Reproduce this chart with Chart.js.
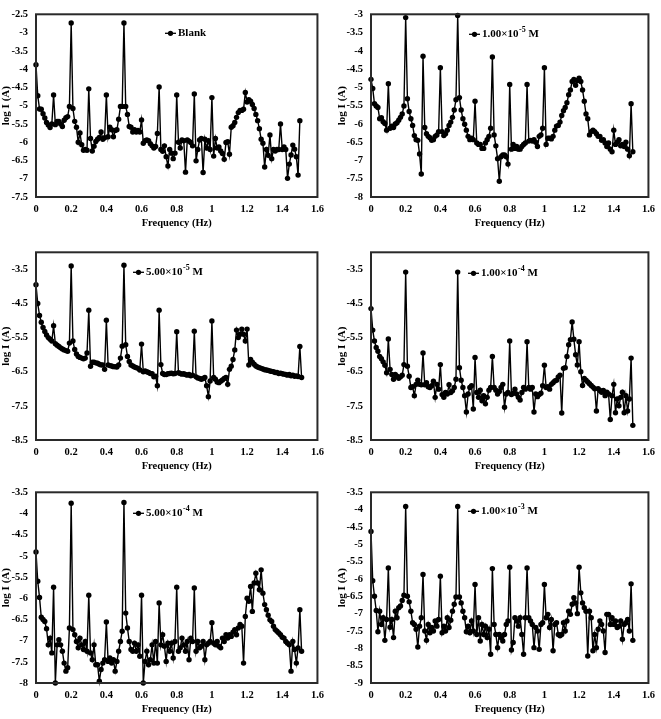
<!DOCTYPE html>
<html>
<head>
<meta charset="utf-8">
<script src="https://cdn.jsdelivr.net/npm/chart.js@4.4.0/dist/chart.umd.min.js"></script>
<style>
  html, body { margin: 0; padding: 0; background: #fff; width: 661px; height: 719px; overflow: hidden; }
  .panel { position: absolute; }
  canvas { display: block; }
</style>
</head>
<body>
<div class="panel" style="left:0;top:0"><canvas id="c1" width="330" height="237"></canvas></div>
<div class="panel" style="left:330px;top:0"><canvas id="c2" width="331" height="237"></canvas></div>
<div class="panel" style="left:0;top:238px"><canvas id="c3" width="330" height="242"></canvas></div>
<div class="panel" style="left:330px;top:238px"><canvas id="c4" width="331" height="242"></canvas></div>
<div class="panel" style="left:0;top:478px"><canvas id="c5" width="330" height="245"></canvas></div>
<div class="panel" style="left:330px;top:478px"><canvas id="c6" width="331" height="245"></canvas></div>
<script>
/* --- Data --- */
// sampling grid of the spectra, Hz
const freq = Array.from({ length: 152 }, (_, i) => i / 100);
const xTicks = [0, 0.2, 0.4, 0.6, 0.8, 1, 1.2, 1.4, 1.6];

// log I (A)
const logIBlank = [
  -3.88, -4.73, -5.09, -5.10, -5.22, -5.34, -5.46, -5.53, -5.60, -5.50,
  -4.71, -5.52, -5.43, -5.43, -5.50, -5.57, -5.40, -5.33, -5.30, -5.02,
  -2.74, -5.08, -5.43, -5.59, -6.00, -5.75, -6.07, -6.22, -6.20, -6.22,
  -4.54, -5.90, -6.24, -6.11, -5.98, -5.92, -5.87, -5.72, -5.92, -5.88,
  -4.71, -5.85, -5.59, -5.66, -5.85, -5.68, -5.66, -5.37, -5.02, -5.02,
  -2.74, -5.02, -5.24, -5.57, -5.59, -5.72, -5.66, -5.72, -5.68, -5.72,
  -5.39, -6.03, -5.96, -5.94, -5.96, -6.04, -6.10, -6.16, -6.12, -5.76,
  -4.49, -6.20, -6.25, -6.10, -6.40, -6.65, -6.20, -6.30, -6.45, -6.30,
  -4.71, -6.00, -6.16, -5.94, -5.96, -6.82, -5.94, -5.97, -6.01, -6.10,
  -4.68, -6.51, -6.20, -5.94, -5.90, -6.83, -5.92, -6.16, -5.96, -6.20,
  -4.78, -6.38, -5.90, -6.16, -6.13, -6.24, -6.31, -6.47, -6.01, -5.99,
  -6.33, -5.59, -5.55, -5.46, -5.32, -5.19, -5.13, -5.13, -5.10, -4.64,
  -4.90, -4.84, -4.88, -4.97, -5.08, -5.24, -5.41, -5.63, -5.92, -6.03,
  -6.68, -6.20, -6.36, -5.80, -6.45, -6.20, -6.24, -6.20, -6.20, -5.50,
  -6.20, -6.13, -6.20, -6.99, -6.60, -6.35, -6.08, -6.19, -6.40, -6.90,
  -5.41
];
const logI1e5 = [
  -4.78, -5.03, -5.45, -5.51, -5.55, -5.86, -5.83, -5.94, -5.99, -6.17,
  -4.90, -6.12, -6.06, -6.10, -6.00, -5.97, -5.90, -5.82, -5.73, -5.51,
  -3.09, -5.31, -5.66, -5.86, -6.04, -6.32, -6.43, -6.45, -6.82, -7.37,
  -4.15, -6.10, -6.27, -6.34, -6.38, -6.45, -6.43, -6.34, -6.30, -6.21,
  -4.46, -6.21, -6.32, -6.27, -6.17, -6.04, -5.95, -5.82, -5.62, -5.34,
  -3.03, -5.28, -5.62, -5.86, -6.01, -6.17, -6.34, -6.43, -6.39, -6.43,
  -5.38, -6.52, -6.56, -6.56, -6.67, -6.67, -6.52, -6.43, -6.34, -6.12,
  -4.17, -6.30, -6.60, -6.95, -7.57, -6.90, -6.85, -6.85, -6.90, -7.10,
  -4.92, -6.69, -6.56, -6.67, -6.62, -6.69, -6.69, -6.62, -6.56, -6.52,
  -4.92, -6.47, -6.45, -6.47, -6.43, -6.50, -6.62, -6.34, -6.30, -6.12,
  -4.46, -6.56, -6.39, -6.39, -6.41, -6.34, -6.17, -6.06, -6.04, -5.95,
  -5.77, -5.64, -5.55, -5.42, -5.20, -5.07, -4.84, -4.78, -4.94, -4.81,
  -4.75, -4.84, -5.07, -5.38, -5.73, -5.86, -6.30, -6.21, -6.17, -6.21,
  -6.27, -6.34, -6.34, -6.45, -6.43, -6.52, -6.62, -6.52, -6.69, -6.76,
  -6.17, -6.56, -6.50, -6.43, -6.60, -6.56, -6.62, -6.50, -6.69, -6.87,
  -5.45, -6.76
];
const logI5e5 = [
  -3.95, -4.50, -4.85, -5.05, -5.20, -5.32, -5.42, -5.50, -5.55, -5.60,
  -5.15, -5.68, -5.72, -5.76, -5.80, -5.83, -5.86, -5.88, -5.90, -5.66,
  -3.40, -5.60, -5.85, -5.98, -6.05, -6.08, -6.10, -6.12, -6.10, -5.95,
  -4.70, -6.34, -6.22, -6.22, -6.24, -6.25, -6.28, -6.30, -6.30, -6.43,
  -4.99, -6.30, -6.32, -6.33, -6.35, -6.35, -6.36, -6.30, -6.10, -5.75,
  -3.38, -5.71, -6.05, -6.20, -6.30, -6.33, -6.36, -6.38, -6.40, -6.45,
  -5.69, -6.50, -6.48, -6.50, -6.52, -6.55, -6.56, -6.65, -6.63, -6.91,
  -4.70, -6.29, -6.55, -6.58, -6.58, -6.56, -6.55, -6.54, -6.56, -6.55,
  -5.33, -6.53, -6.55, -6.57, -6.56, -6.58, -6.60, -6.58, -6.62, -6.60,
  -5.31, -6.65, -6.68, -6.70, -6.72, -6.70, -6.67, -6.91, -7.23, -6.77,
  -5.01, -6.67, -6.72, -6.80, -6.82, -6.78, -6.74, -6.70, -6.67, -6.87,
  -6.43, -6.34, -6.14, -5.86, -5.28, -5.50, -5.40, -5.25, -5.40, -5.60,
  -5.25, -6.30, -6.14, -6.22, -6.28, -6.33, -6.36, -6.38, -6.40, -6.42,
  -6.44, -6.45, -6.46, -6.48, -6.49, -6.50, -6.52, -6.52, -6.55, -6.54,
  -6.56, -6.57, -6.58, -6.60, -6.58, -6.62, -6.60, -6.63, -6.62, -6.64,
  -5.76, -6.67
];
const logI1e4 = [
  -4.65, -5.28, -5.60, -5.79, -5.90, -6.05, -6.12, -6.21, -6.31, -6.53,
  -5.54, -6.43, -6.58, -6.72, -6.58, -6.63, -6.69, -6.65, -6.60, -6.29,
  -3.58, -6.34, -6.63, -6.96, -6.94, -7.20, -6.87, -6.75, -6.87, -6.88,
  -5.95, -6.88, -6.82, -6.94, -6.96, -6.91, -6.78, -7.25, -6.87, -7.01,
  -6.29, -7.17, -7.25, -7.11, -7.15, -6.88, -7.11, -7.06, -6.96, -6.72,
  -3.58, -6.38, -6.75, -6.96, -7.20, -7.68, -7.15, -6.96, -6.91, -7.59,
  -6.08, -7.11, -7.25, -7.04, -7.35, -7.20, -7.44, -7.25, -7.04, -6.96,
  -6.05, -6.96, -7.04, -7.15, -7.08, -6.96, -6.87, -7.54, -7.15, -7.11,
  -5.60, -7.17, -7.13, -7.01, -7.15, -7.25, -7.33, -7.11, -6.96, -7.01,
  -5.62, -6.96, -7.01, -6.96, -7.68, -7.15, -7.23, -7.17, -7.13, -6.91,
  -6.31, -6.96, -6.94, -7.01, -6.87, -6.82, -6.77, -6.75, -6.65, -6.60,
  -7.71, -6.40, -6.38, -6.05, -5.71, -5.56, -5.04, -5.55, -6.00, -6.30,
  -5.62, -6.50, -6.90, -6.70, -6.75, -6.80, -6.85, -6.90, -6.95, -7.00,
  -7.65, -7.00, -7.05, -7.10, -7.05, -7.20, -7.10, -7.15, -7.90, -7.20,
  -6.87, -7.70, -7.30, -7.50, -7.25, -7.10, -7.70, -7.20, -7.65, -7.30,
  -6.10, -8.07
];
const logI5e4 = [
  -4.91, -5.60, -5.98, -6.45, -6.50, -6.55, -6.72, -7.10, -6.94, -7.29,
  -5.74, -8.00, -7.10, -6.98, -7.10, -7.25, -7.53, -7.72, -7.64, -6.70,
  -3.76, -6.74, -6.86, -7.02, -7.17, -6.94, -7.10, -7.21, -7.02, -7.25,
  -5.93, -7.29, -7.45, -7.10, -7.57, -7.57, -7.96, -7.68, -7.53, -7.45,
  -6.56, -7.49, -7.41, -7.53, -7.45, -7.72, -7.49, -7.25, -7.02, -6.78,
  -3.74, -6.35, -6.70, -7.02, -7.21, -7.25, -7.06, -7.25, -7.10, -7.37,
  -5.93, -8.00, -7.49, -7.25, -7.57, -7.45, -7.10, -7.53, -7.02, -7.53,
  -6.11, -7.10, -6.86, -7.13, -7.49, -7.06, -7.25, -7.06, -7.41, -7.02,
  -5.74, -7.25, -7.17, -6.94, -7.10, -7.25, -7.02, -7.45, -6.94, -7.02,
  -5.76, -7.25, -7.02, -7.17, -7.13, -7.02, -7.45, -7.10, -7.06, -7.02,
  -6.58, -7.06, -7.10, -7.02, -7.13, -7.17, -6.94, -7.02, -6.86, -6.94,
  -6.86, -6.90, -6.80, -6.74, -6.86, -6.70, -6.62, -6.66, -7.53, -6.43,
  -6.00, -6.07, -5.72, -6.31, -5.64, -5.41, -5.64, -5.80, -5.33, -5.88,
  -6.15, -6.27, -6.40, -6.51, -6.55, -6.66, -6.74, -6.78, -6.82, -6.86,
  -6.92, -6.94, -7.02, -7.06, -7.10, -7.72, -7.02, -7.21, -7.53, -7.17,
  -6.27, -7.25
];
const logI1e3 = [
  -4.63, -6.05, -6.50, -6.91, -7.52, -6.93, -7.31, -7.12, -7.77, -7.17,
  -5.68, -7.39, -7.17, -7.69, -6.93, -7.12, -6.83, -6.78, -6.62, -6.47,
  -3.91, -6.50, -6.66, -6.93, -7.26, -7.31, -7.45, -7.96, -7.36, -7.12,
  -5.87, -7.50, -7.77, -7.31, -7.55, -7.40, -7.50, -7.21, -7.36, -7.17,
  -5.92, -7.55, -7.36, -7.50, -7.12, -7.40, -7.19, -6.93, -6.73, -6.52,
  -3.91, -6.52, -6.69, -6.93, -7.12, -7.52, -7.36, -7.55, -7.21, -7.50,
  -6.16, -7.60, -7.12, -7.79, -7.31, -7.60, -7.36, -7.69, -7.45, -8.17,
  -5.70, -7.31, -7.60, -7.98, -7.60, -7.69, -7.79, -7.60, -7.31, -7.21,
  -5.66, -8.05, -7.83, -7.12, -7.21, -7.36, -7.12, -7.60, -8.17, -7.12,
  -5.68, -7.12, -7.21, -7.31, -7.98, -7.40, -7.50, -8.03, -7.31, -7.26,
  -6.16, -7.12, -7.02, -7.40, -7.17, -8.07, -7.31, -7.26, -7.60, -7.64,
  -7.60, -7.26, -7.50, -7.21, -6.93, -7.02, -6.73, -6.54, -6.69, -7.00,
  -5.66, -6.40, -6.69, -6.83, -6.93, -8.22, -6.93, -7.12, -8.07, -7.60,
  -7.98, -7.45, -7.21, -7.31, -7.50, -8.12, -7.02, -7.02, -7.31, -7.12,
  -7.31, -7.21, -7.40, -7.36, -7.21, -7.74, -7.31, -7.26, -7.17, -7.50,
  -6.14, -7.77
];

// y-axis ranges and tick labels per panel
const yTicksBlank = [-7.5, -7, -6.5, -6, -5.5, -5, -4.5, -4, -3.5, -3, -2.5];
const yTicks1e5 = [-8, -7.5, -7, -6.5, -6, -5.5, -5, -4.5, -4, -3.5, -3];
const yTicks5e5 = [-8.5, -7.5, -6.5, -5.5, -4.5, -3.5];
const yTicks1e4 = [-8.5, -7.5, -6.5, -5.5, -4.5, -3.5];
const yTicks5e4 = [-8, -7.5, -7, -6.5, -6, -5.5, -5, -4.5, -4, -3.5];
const yTicks1e3 = [-9, -8.5, -8, -7.5, -7, -6.5, -6, -5.5, -5, -4.5, -4, -3.5];

// legend labels: text, superscript exponent, unit
const legendText = ['Blank', '1.00\u00d710', '5.00\u00d710', '1.00\u00d710', '5.00\u00d710', '1.00\u00d710'];
const legendExp = ['', '-5', '-5', '-4', '-4', '-3'];
const legendUnit = ['', ' M', ' M', ' M', ' M', ' M'];

/* --- Drawing --- */
const SERIF = '"Liberation Serif", "Times New Roman", serif';

// frame round the plot area + the little in-plot legend
const panelDecor = {
    id: 'panelDecor',
    afterDatasetsDraw(chart, args, opts) {
        const { ctx, chartArea: a } = chart;
        ctx.save();
        ctx.strokeStyle = '#2a2a2a';
        ctx.lineWidth = 2;
        ctx.strokeRect(a.left, a.top, a.right - a.left, a.bottom - a.top);

        const x0 = a.left + opts.dx;
        const y0 = a.top + opts.dy;
        ctx.strokeStyle = '#000';
        ctx.lineWidth = 1.3;
        ctx.beginPath();
        ctx.moveTo(x0, y0);
        ctx.lineTo(x0 + 11, y0);
        ctx.stroke();
        ctx.fillStyle = '#000';
        ctx.beginPath();
        ctx.arc(x0 + 5.5, y0, 2.6, 0, Math.PI * 2);
        ctx.fill();

        ctx.textBaseline = 'middle';
        ctx.font = 'bold 11px ' + SERIF;
        let x = x0 + 13;
        ctx.fillText(opts.text, x, y0);
        x += ctx.measureText(opts.text).width;
        if (opts.exp) {
            ctx.font = 'bold 8px ' + SERIF;
            ctx.fillText(opts.exp, x + 0.5, y0 - 4);
            x += ctx.measureText(opts.exp).width + 0.5;
            ctx.font = 'bold 11px ' + SERIF;
            ctx.fillText(opts.unit, x, y0);
        }
        ctx.restore();
    }
};

function makePanel(p, idx) {
    const tickFont = { family: SERIF, size: 10.5, weight: 'bold' };
    new Chart(document.getElementById(p.canvas), {
        type: 'line',
        data: {
            datasets: [{
                data: p.values.map((v, i) => ({ x: freq[i], y: v })),
                borderColor: '#000',
                borderWidth: 1.4,
                pointRadius: 2.7,
                pointBackgroundColor: '#000',
                pointBorderWidth: 0,
                tension: 0,
                fill: false,
                clip: 4
            }]
        },
        options: {
            responsive: false,
            animation: false,
            devicePixelRatio: 1,
            layout: { padding: { top: p.padTop, right: p.padRight, left: 0, bottom: 0 } },
            scales: {
                x: {
                    type: 'linear',
                    min: 0,
                    max: 1.6,
                    afterBuildTicks: s => { s.ticks = xTicks.map(v => ({ value: v })); },
                    afterFit: s => { s.height = 40; },
                    grid: { display: false, drawTicks: false },
                    border: { display: false },
                    ticks: { autoSkip: false, maxRotation: 0, padding: 6, color: '#000', font: tickFont, callback: v => String(v) },
                    title: { display: true, text: 'Frequency (Hz)', color: '#000', font: { family: SERIF, size: 10.5, weight: 'bold' }, padding: { top: 0, bottom: 7 } }
                },
                y: {
                    type: 'linear',
                    min: p.yTicks[0],
                    max: p.yMax,
                    afterBuildTicks: s => { s.ticks = p.yTicks.map(v => ({ value: v })); },
                    afterFit: s => { s.width = p.yWidth; },
                    grid: { display: false, drawTicks: false },
                    border: { display: false },
                    ticks: { autoSkip: false, padding: 8, color: '#000', font: tickFont, callback: v => String(v) },
                    title: { display: true, text: 'log I (A)', color: '#000', font: { family: SERIF, size: 11, weight: 'bold' }, padding: { top: p.yTitlePad, bottom: 0 } }
                }
            },
            plugins: {
                legend: { display: false },
                tooltip: { enabled: false },
                panelDecor: { dx: p.legendDx, dy: p.legendDy, text: legendText[idx], exp: legendExp[idx], unit: legendUnit[idx] }
            }
        },
        plugins: [panelDecor]
    });
}

const panels = [
    { canvas: 'c1', values: logIBlank, yTicks: yTicksBlank, yMax: -2.5, padTop: 6, padRight: 12, yWidth: 36, yTitlePad: 0, legendDx: 129, legendDy: 19 },
    { canvas: 'c2', values: logI1e5, yTicks: yTicks1e5, yMax: -3, padTop: 5, padRight: 7, yWidth: 41, yTitlePad: 6, legendDx: 98, legendDy: 20 },
    { canvas: 'c3', values: logI5e5, yTicks: yTicks5e5, yMax: -3, padTop: 10, padRight: 12, yWidth: 36, yTitlePad: 0, legendDx: 97, legendDy: 20 },
    { canvas: 'c4', values: logI1e4, yTicks: yTicks1e4, yMax: -3, padTop: 10, padRight: 7, yWidth: 41, yTitlePad: 6, legendDx: 97, legendDy: 21 },
    { canvas: 'c5', values: logI5e4, yTicks: yTicks5e4, yMax: -3.5, padTop: 13, padRight: 12, yWidth: 36, yTitlePad: 0, legendDx: 97, legendDy: 21 },
    { canvas: 'c6', values: logI1e3, yTicks: yTicks1e3, yMax: -3.5, padTop: 14, padRight: 7, yWidth: 41, yTitlePad: 6, legendDx: 97, legendDy: 19 }
];

panels.forEach(makePanel);
</script>
</body>
</html>
